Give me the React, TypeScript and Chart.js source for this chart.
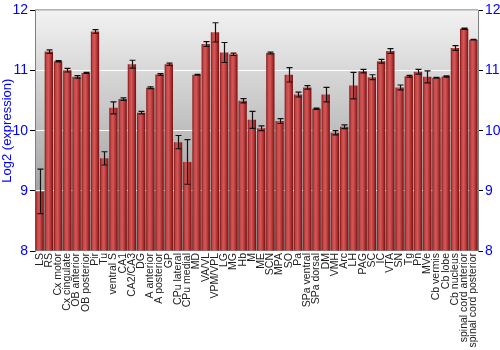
import React, { useEffect, useRef } from "react";
import { Chart, registerables } from "chart.js";

Chart.register(...registerables);

const categories = [
  "LS", "RS", "Cx motor", "Cx cingulate", "OB anterior", "OB posterior", "Pir", "Tu",
  "ventral S", "CA1", "CA2/CA3", "DG", "A anterior", "A posterior", "GP", "CPu lateral",
  "CPu medial", "MD", "VA/VL", "VPM/VPL", "LG", "MG", "Hb", "M", "ME", "SCN", "MPA", "SO",
  "Pa", "SPa ventral", "SPa dorsal", "DM", "VMH", "Arc", "LH", "PAG", "SC", "IC", "VTA",
  "SN", "Tg", "Pn", "MVe", "Cb vermis", "Cb lobe", "Cb nucleus", "spinal cord anterior",
  "spinal cord posterior",
];

const values = [
  8.99, 11.315, 11.155, 11.006, 10.895, 10.96, 11.65, 9.54,
  10.38, 10.525, 11.105, 10.30, 10.713, 10.934, 11.105, 9.81,
  9.48, 10.93, 11.44, 11.635, 11.30, 11.27, 10.497, 10.18, 10.04, 11.29, 10.16, 10.93,
  10.60, 10.72, 10.365, 10.60, 9.967, 10.066, 10.75, 10.99, 10.89, 11.155, 11.326,
  10.72, 10.906, 10.98, 10.895, 10.88, 10.90, 11.376, 11.696,
  11.514,
];

const errors = [
  0.37, 0.03, 0.01, 0.03, 0.02, 0.008, 0.03, 0.11,
  0.1, 0.02, 0.066, 0.02, 0.015, 0.015, 0.02, 0.11,
  0.37, 0.008, 0.04, 0.16, 0.166, 0.02, 0.035, 0.14, 0.04, 0.015, 0.04, 0.12,
  0.04, 0.03, 0.01, 0.12, 0.035, 0.03, 0.22, 0.03, 0.04, 0.03, 0.04,
  0.04, 0.015, 0.04, 0.1, 0.008, 0.01, 0.04, 0.01,
  0.005,
];

const yTicks = [8, 9, 10, 11, 12];

const FONT = "'Liberation Sans', Arial, sans-serif";

const bgPlugin = {
  id: "bgPlugin",
  beforeDraw(chart: any) {
    const { ctx, chartArea } = chart;
    if (!chartArea) return;
    const g = ctx.createLinearGradient(0, chartArea.top, 0, chartArea.bottom);
    g.addColorStop(0, "#f2f2f2");
    g.addColorStop(1, "#8a8a8a");
    ctx.save();
    ctx.fillStyle = g;
    ctx.fillRect(chartArea.left, chartArea.top, chartArea.right - chartArea.left, chartArea.bottom - chartArea.top);
    ctx.restore();
  },
  afterDraw(chart: any) {
    const { ctx, chartArea } = chart;
    ctx.save();
    ctx.strokeStyle = "#808080";
    ctx.lineWidth = 1;
    ctx.beginPath();
    ctx.moveTo(chartArea.left, chartArea.top - 0.5);
    ctx.lineTo(chartArea.right, chartArea.top - 0.5);
    ctx.stroke();
    ctx.restore();
  },
};

const errPlugin = {
  id: "errPlugin",
  afterDatasetsDraw(chart: any) {
    const { ctx } = chart;
    const ys = chart.scales.y;
    const meta = chart.getDatasetMeta(0);
    ctx.save();
    ctx.strokeStyle = "#111";
    ctx.lineWidth = 1.2;
    meta.data.forEach((bar: any, i: number) => {
      const x = Math.round(bar.x) + 0.5;
      const yTop = ys.getPixelForValue(values[i] + errors[i]);
      const yBot = ys.getPixelForValue(values[i] - errors[i]);
      ctx.beginPath();
      ctx.moveTo(x, yTop);
      ctx.lineTo(x, yBot);
      ctx.moveTo(x - 3, yTop);
      ctx.lineTo(x + 3, yTop);
      ctx.moveTo(x - 3, yBot);
      ctx.lineTo(x + 3, yBot);
      ctx.stroke();
    });
    ctx.restore();
  },
};

export default function App() {
  const ref = useRef<HTMLCanvasElement | null>(null);
  useEffect(() => {
    document.body.style.margin = "0";
    const canvas = ref.current;
    if (!canvas) return;
    const n = categories.length;
    const chart = new Chart(canvas, {
      type: "bar",
      data: {
        labels: categories,
        datasets: [
          {
            data: values,
            base: 8,
            barPercentage: 0.9,
            categoryPercentage: 1,
            borderWidth: 0,
            backgroundColor: (c: any) => {
              const ch = c.chart;
              const area = ch.chartArea;
              if (!area || !ch.scales || !ch.scales.x) return "#b83030";
              const x = ch.scales.x.getPixelForValue(c.dataIndex);
              const w = ((area.right - area.left) / n) * 0.9;
              const g = ch.ctx.createLinearGradient(x - w / 2, 0, x + w / 2, 0);
              g.addColorStop(0, "#7a1414");
              g.addColorStop(0.2, "#c44444");
              g.addColorStop(0.45, "#d25a5a");
              g.addColorStop(0.75, "#b23030");
              g.addColorStop(1, "#6e1010");
              return g;
            },
          } as any,
        ],
      },
      options: {
        responsive: false,
        animation: false,
        layout: { padding: { top: 10, left: 0, right: 0, bottom: 0 } },
        plugins: { legend: { display: false }, tooltip: { enabled: false } },
        scales: {
          x: {
            grid: { display: false, drawTicks: false },
            border: { display: false },
            ticks: {
              autoSkip: false,
              maxRotation: 90,
              minRotation: 90,
              color: "#222",
              padding: 2,
              font: { family: FONT, size: 10.5 },
            },
            afterFit: (s: any) => {
              s.height = 99;
            },
          },
          y: {
            position: "left",
            min: 8,
            max: 12,
            afterBuildTicks: (s: any) => {
              s.ticks = yTicks.map((v) => ({ value: v }));
            },
            grid: { color: "#ffffff", lineWidth: 1, tickColor: "#000", tickLength: 5 },
            border: { display: true, color: "#808080" },
            ticks: { color: "#0000ff", font: { family: FONT, size: 14 }, padding: 2 },
            title: {
              display: true,
              text: "Log2 (expression)",
              color: "#0000ff",
              font: { family: FONT, size: 13 },
              padding: { top: 0, bottom: 2 },
            },
            afterFit: (s: any) => {
              s.width = 35;
            },
          },
          y2: {
            position: "right",
            min: 8,
            max: 12,
            afterBuildTicks: (s: any) => {
              s.ticks = yTicks.map((v) => ({ value: v }));
            },
            grid: { drawOnChartArea: false, tickColor: "#000", tickLength: 5 },
            border: { display: true, color: "#808080" },
            ticks: { color: "#0000ff", font: { family: FONT, size: 14 }, padding: 2 },
            afterFit: (s: any) => {
              s.width = 22;
            },
          },
        },
      },
      plugins: [bgPlugin, errPlugin],
    });
    return () => chart.destroy();
  }, []);
  return <canvas ref={ref} width={500} height={350} style={{ display: "block" }} />;
}
